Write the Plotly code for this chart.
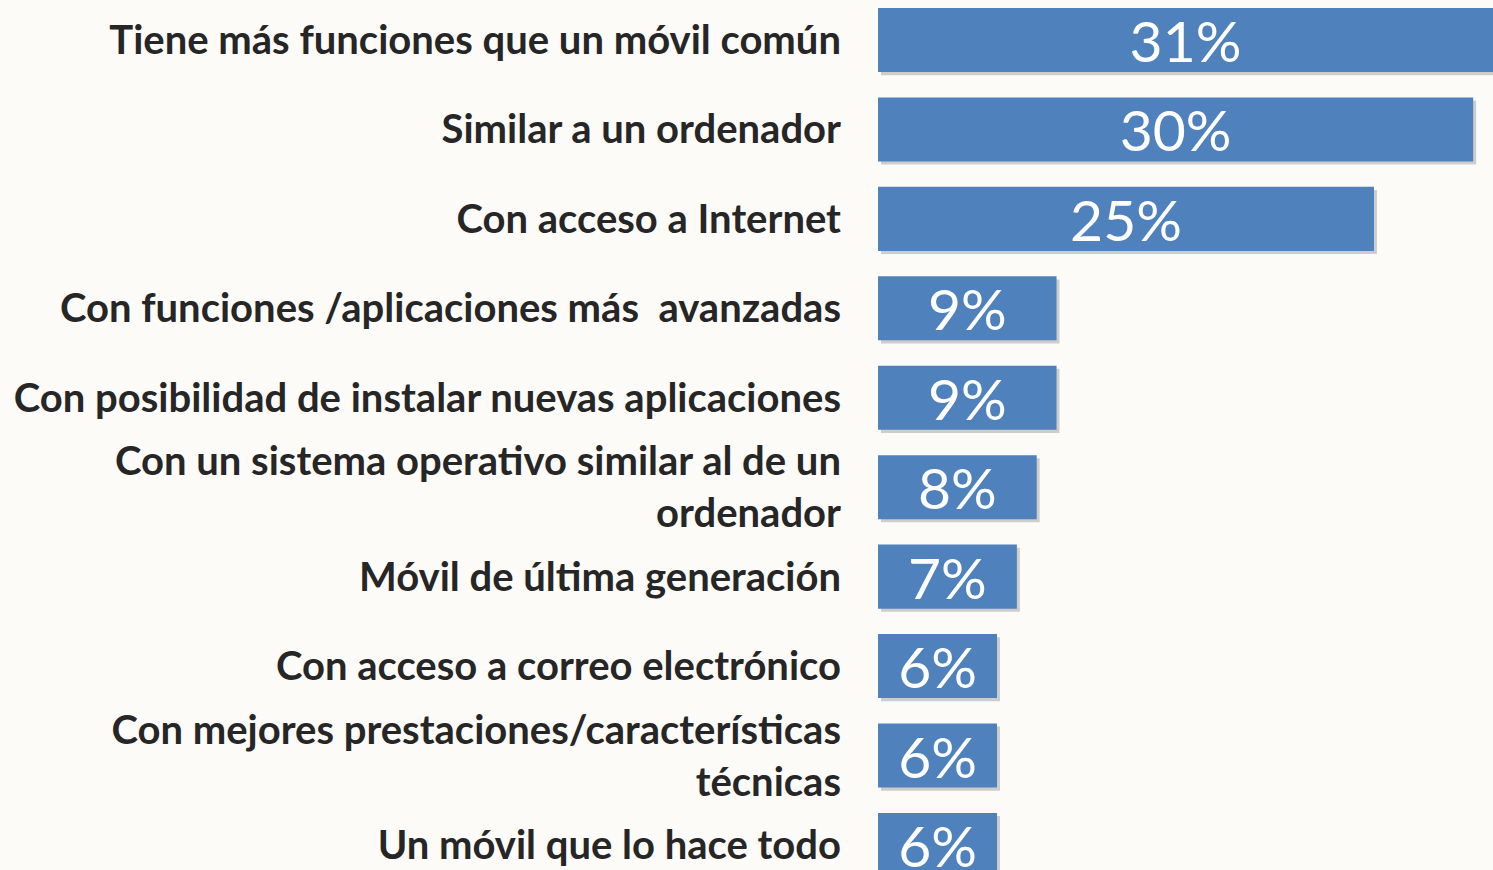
import plotly.graph_objects as go

categories = [
    "Tiene más funciones que un móvil común",
    "Similar a un ordenador",
    "Con acceso a Internet",
    "Con funciones /aplicaciones más \u00a0avanzadas",
    "Con posibilidad de instalar nuevas aplicaciones",
    "Con un sistema operativo similar al de un<br>ordenador",
    "Móvil de última generación",
    "Con acceso a correo electrónico",
    "Con mejores prestaciones/características<br>técnicas",
    "Un móvil que lo hace todo",
]
values = [31, 30, 25, 9, 9, 8, 7, 6, 6, 6]
value_labels = [f"{v}%" for v in values]
positions = list(range(len(categories)))

BAR_COLOR = "#4F81BD"
TEXT_COLOR = "#262626"
BG_COLOR = "#fcfbf8"
BAR_WIDTH = 0.716

fig = go.Figure()

# soft drop shadow behind each bar
fig.add_trace(go.Bar(
    y=positions, x=values, base=0.15, orientation="h",
    width=BAR_WIDTH, offset=-BAR_WIDTH / 2 + 0.035,
    marker=dict(color="rgba(0,0,0,0.18)", line=dict(width=0)),
    hoverinfo="skip", showlegend=False,
))

fig.add_trace(go.Bar(
    y=positions, x=values, orientation="h",
    width=BAR_WIDTH,
    marker=dict(color=BAR_COLOR, line=dict(width=0)),
    text=value_labels, textposition="inside", insidetextanchor="middle",
    constraintext="none",
    textfont=dict(family="Lato", size=57, color="white"),
    hoverinfo="skip", showlegend=False,
))

fig.update_layout(
    width=1493, height=870,
    margin=dict(l=878, r=0, t=0, b=0),
    paper_bgcolor=BG_COLOR, plot_bgcolor="rgba(0,0,0,0)",
    barmode="overlay",
    xaxis=dict(range=[0, 31], visible=False, fixedrange=True),
    yaxis=dict(
        range=[9.28, -0.447],
        tickvals=positions, ticktext=categories,
        tickfont=dict(family="Lato", size=40, color=TEXT_COLOR, weight="bold"),
        showgrid=False, zeroline=False, showline=False, ticks="",
        ticklabelstandoff=36,
        fixedrange=True,
    ),
)

fig.write_html(
    "out.html",
    config={"displayModeBar": False},
    post_script="document.body.style.margin='0';document.body.style.overflow='hidden';"
                "document.body.style.background='" + BG_COLOR + "';",
)
